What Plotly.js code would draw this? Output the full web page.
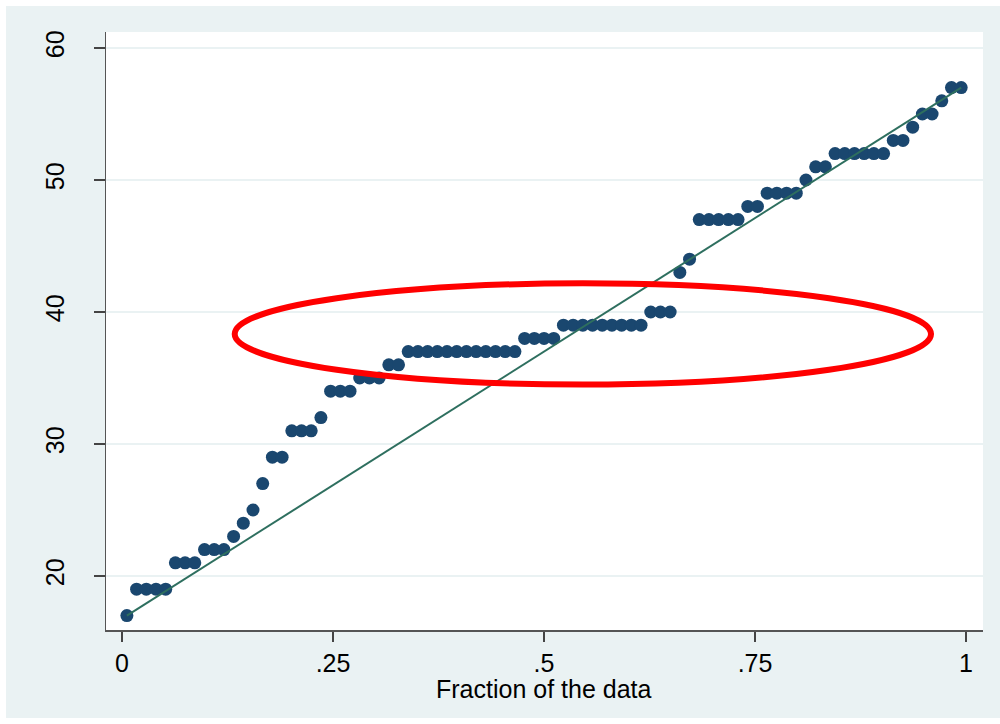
<!DOCTYPE html>
<html>
<head>
<meta charset="utf-8">
<script src="https://cdn.plot.ly/plotly-3.0.1.min.js"></script>
<style>
  html, body { margin: 0; padding: 0; background: #ffffff; width: 1000px; height: 724px; overflow: hidden; }
  #chart { position: absolute; left: 6px; top: 6px; width: 994px; height: 712px; }
</style>
</head>
<body>
<div id="chart"></div>
<script>
const sortedValues = [
  17,
  19, 19, 19, 19,
  21, 21, 21,
  22, 22, 22,
  23, 24, 25, 27,
  29, 29,
  31, 31, 31,
  32,
  34, 34, 34,
  35, 35, 35,
  36, 36,
  37, 37, 37, 37, 37, 37, 37, 37, 37, 37, 37, 37,
  38, 38, 38, 38,
  39, 39, 39, 39, 39, 39, 39, 39, 39,
  40, 40, 40,
  43, 44,
  47, 47, 47, 47, 47,
  48, 48,
  49, 49, 49, 49,
  50,
  51, 51,
  52, 52, 52, 52, 52, 52,
  53, 53,
  54,
  55, 55,
  56,
  57, 57
];
const xTickVals = [0, 0.25, 0.5, 0.75, 1];
const xTickText = ["0", ".25", ".5", ".75", "1"];
const yTickVals = [20, 30, 40, 50, 60];
const yTickText = ["20", "30", "40", "50", "60"];
const xTitle = "Fraction of the data";

// Plotting positions of a quantile plot: (i - 0.5) / n
const n = sortedValues.length;
const fractions = sortedValues.map((v, i) => (i + 0.5) / n);

// Reference line: from the first quantile to the last
const refX = [fractions[0], fractions[n - 1]];
const refY = [sortedValues[0], sortedValues[n - 1]];

const font = { family: '"Liberation Sans", Arial, sans-serif', size: 25, color: '#000000' };

const traces = [
  {
    type: 'scatter', mode: 'markers',
    x: fractions, y: sortedValues,
    marker: { color: '#1a476f', size: 13, line: { width: 0 } },
    hoverinfo: 'skip', showlegend: false
  },
  {
    type: 'scatter', mode: 'lines',
    x: refX, y: refY,
    line: { color: '#2e6f5f', width: 2 },
    hoverinfo: 'skip', showlegend: false
  }
];

const layout = {
  width: 994, height: 712,
  margin: { l: 100, r: 17, t: 26, b: 88 },
  paper_bgcolor: '#eaf2f3',
  plot_bgcolor: '#ffffff',
  font: font,
  showlegend: false,
  xaxis: {
    range: [-0.019, 1.0201],
    tickvals: xTickVals, ticktext: xTickText,
    ticks: 'outside', ticklen: 10, tickwidth: 1.2, tickcolor: '#444444',
    showgrid: false, zeroline: false,
    showline: true, linecolor: '#555555', linewidth: 1.5,
    tickfont: font
  },
  yaxis: {
    range: [15.909, 61.212],
    tickvals: yTickVals, ticktext: yTickText,
    tickangle: -90,
    ticks: 'outside', ticklen: 11, tickwidth: 1.2, tickcolor: '#444444',
    ticklabelstandoff: 20,
    showgrid: true, gridcolor: '#eaf2f3', gridwidth: 2,
    zeroline: false,
    showline: true, linecolor: '#555555', linewidth: 1.5,
    tickfont: font
  },
  annotations: [
    {
      text: xTitle, xref: 'x', yref: 'paper', x: 0.5, y: 0,
      xanchor: 'center', yanchor: 'middle', yshift: -59,
      showarrow: false, font: font
    }
  ],
  shapes: [
    {
      type: 'circle', xref: 'x', yref: 'y',
      x0: 0.1335, x1: 0.9585, y0: 34.5, y1: 42.17,
      line: { color: '#ff0000', width: 6 },
      fillcolor: 'rgba(0,0,0,0)',
      layer: 'above'
    }
  ]
};

Plotly.newPlot('chart', traces, layout, { staticPlot: true, displayModeBar: false });
</script>
</body>
</html>
